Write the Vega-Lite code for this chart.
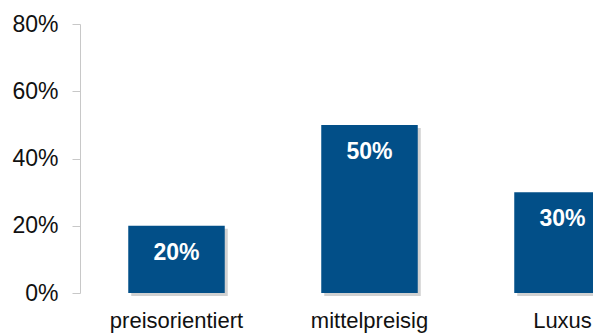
{
  "$schema": "https://vega.github.io/schema/vega-lite/v6.json",
  "width": 513,
  "height": 269,
  "autosize": "none",
  "padding": {"left": 80, "top": 24, "right": 0, "bottom": 42},
  "background": "white",
  "config": {"view": {"stroke": null}, "font": "Liberation Sans"},
  "data": {"values": [
    {"kategorie": "preisorientiert", "anteil": 0.2},
    {"kategorie": "mittelpreisig", "anteil": 0.5},
    {"kategorie": "Luxus", "anteil": 0.3}
  ]},
  "encoding": {
    "x": {"field": "kategorie", "type": "nominal", "sort": null,
      "scale": {"range": [0, 579], "paddingInner": 0.5, "paddingOuter": 0.25},
      "axis": {"title": null, "domain": false, "ticks": false, "labelAngle": 0,
        "labelFontSize": 22, "labelColor": "#111", "labelPadding": 17, "labelFont": "Liberation Sans"}},
    "y": {"field": "anteil", "type": "quantitative",
      "scale": {"domain": [0, 0.8], "nice": false},
      "axis": {"title": null, "values": [0, 0.2, 0.4, 0.6, 0.8], "format": ".0%", "grid": false,
        "domainColor": "#c8c8c8", "tickColor": "#c8c8c8", "tickSize": 8, "labelPadding": 14,
        "labelFontSize": 23, "labelColor": "#111", "labelFont": "Liberation Sans"}}
  },
  "layer": [
    {"mark": {"type": "bar", "color": "#9a9a9a", "opacity": 0.45, "xOffset": 3, "yOffset": 3}},
    {"mark": {"type": "bar", "color": "#024f88"}},
    {"mark": {"type": "text", "color": "white", "fontWeight": "bold", "fontSize": 23, "baseline": "middle", "dy": 27, "font": "Liberation Sans"},
      "encoding": {"text": {"field": "anteil", "type": "quantitative", "format": ".0%"}}}
  ]
}
